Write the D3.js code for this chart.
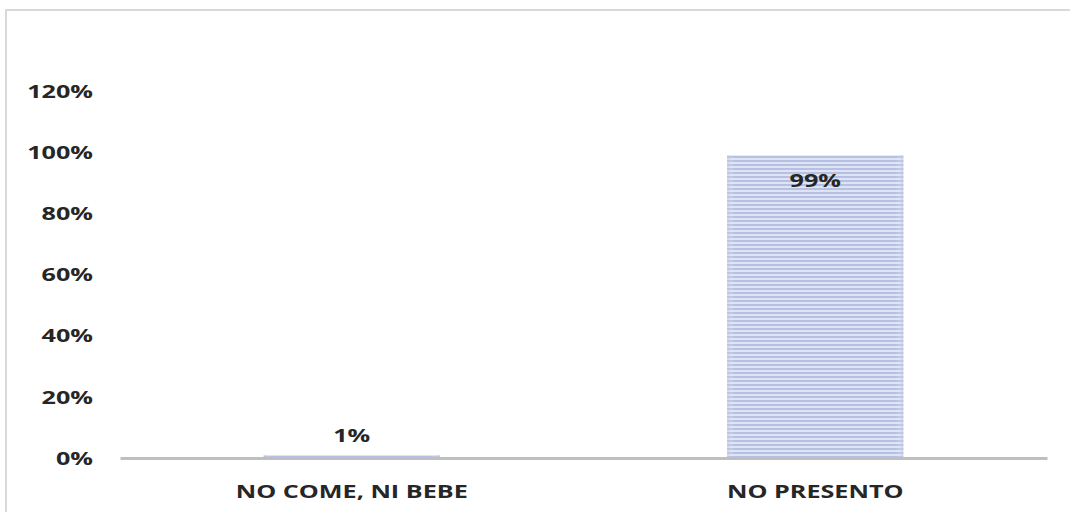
<!DOCTYPE html>
<html>
<head>
<meta charset="utf-8">
<script src="https://cdn.jsdelivr.net/npm/d3@7"></script>
<style>
  html, body { margin: 0; padding: 0; background: #ffffff; }
  svg { display: block; }
  text { font-family: "Open Sans", sans-serif; font-weight: 700; fill: #262626; }
</style>
</head>
<body>
<svg id="chart" width="1070" height="512"></svg>
<script>
// Share of cases per category
const categories = ["NO COME, NI BEBE", "NO PRESENTO"];
const values = [0.01, 0.99];
const valueLabels = ["1%", "99%"];
const tickValues = [0, 0.2, 0.4, 0.6, 0.8, 1.0, 1.2];
const tickLabels = ["0%", "20%", "40%", "60%", "80%", "100%", "120%"];

const W = 1070, H = 512;
const plot = { left: 120, right: 1047, top: 91, bottom: 458 };
const STRETCH = 1.4; // wide lettering

const svg = d3.select("#chart");

// striped fill for the bars
const defs = svg.append("defs");
const pat = defs.append("pattern")
  .attr("id", "stripes")
  .attr("patternUnits", "userSpaceOnUse")
  .attr("width", 8).attr("height", 4);
pat.append("rect").attr("width", 8).attr("height", 4).attr("fill", "#dfe4f4");
pat.append("rect").attr("y", 0).attr("width", 8).attr("height", 2).attr("fill", "#b6c0e2");

const edge = defs.append("linearGradient").attr("id", "edgeFade")
  .attr("x1", "0").attr("x2", "1").attr("y1", "0").attr("y2", "0");
edge.append("stop").attr("offset", "0").attr("stop-color", "#b6c0e2").attr("stop-opacity", 0.5);
edge.append("stop").attr("offset", "0.04").attr("stop-color", "#ffffff").attr("stop-opacity", 0);
edge.append("stop").attr("offset", "0.96").attr("stop-color", "#ffffff").attr("stop-opacity", 0);
edge.append("stop").attr("offset", "1").attr("stop-color", "#b6c0e2").attr("stop-opacity", 0.5);

// outer frame
svg.append("rect")
  .attr("x", 6).attr("y", 10).attr("width", W + 10).attr("height", H + 10)
  .attr("fill", "none").attr("stroke", "#d9d9d9").attr("stroke-width", 2);

const x = d3.scaleBand()
  .domain(categories)
  .range([plot.left, plot.right])
  .paddingInner(0.62)
  .paddingOuter(0.31);

const y = d3.scaleLinear()
  .domain([0, 1.2])
  .range([plot.bottom, plot.top]);

// value axis labels (no axis line, no gridlines)
const yAxis = d3.axisLeft(y)
  .tickValues(tickValues)
  .tickFormat((d, i) => tickLabels[i])
  .tickSize(0)
  .tickPadding(0);
const gy = svg.append("g").attr("transform", "translate(93,0)").call(yAxis);
gy.select(".domain").remove();
gy.selectAll(".tick text")
  .attr("x", 0).attr("dy", "0.35em")
  .attr("font-size", 18)
  .attr("transform", `scale(${STRETCH},1)`)
  .attr("x", 0)
  .style("font-family", "'Open Sans', sans-serif")
  .style("font-weight", 700)
  .attr("fill", "#262626");
// stretch around right anchor
gy.selectAll(".tick text").attr("transform", null).each(function() {
  const t = d3.select(this);
  t.attr("transform", `scale(${STRETCH},1)`);
});

// bars
const rows = categories.map((c, i) => ({ c, v: values[i], label: valueLabels[i] }));
const bars = svg.append("g");
bars.selectAll("rect.bar").data(rows).join("rect")
  .attr("class", "bar")
  .attr("x", d => x(d.c))
  .attr("width", x.bandwidth())
  .attr("y", d => y(d.v))
  .attr("height", d => y(0) - y(d.v))
  .attr("fill", "url(#stripes)");
bars.selectAll("rect.fade").data(rows).join("rect")
  .attr("class", "fade")
  .attr("x", d => x(d.c))
  .attr("width", x.bandwidth())
  .attr("y", d => y(d.v))
  .attr("height", d => y(0) - y(d.v))
  .attr("fill", "url(#edgeFade)");

// category axis
const xAxis = d3.axisBottom(x).tickSize(0).tickPadding(0);
const gx = svg.append("g").attr("transform", `translate(0,${plot.bottom})`).call(xAxis);
gx.select(".domain").attr("stroke", "#bfbfbf").attr("stroke-width", 3);
gx.selectAll(".tick text")
  .attr("y", 0).attr("dy", 0)
  .attr("font-size", 18)
  .style("font-family", "'Open Sans', sans-serif")
  .style("font-weight", 700)
  .attr("fill", "#262626")
  .each(function(d) {
    const cx = x(d) + x.bandwidth() / 2;
    d3.select(this.parentNode).attr("transform", `translate(${cx},0)`);
    d3.select(this).attr("transform", `translate(0,40) scale(${STRETCH},1)`);
  });

// data labels
svg.append("g").selectAll("text").data(rows).join("text")
  .attr("text-anchor", "middle")
  .attr("font-size", 18)
  .attr("transform", d => {
    const cx = x(d.c) + x.bandwidth() / 2;
    const cy = d.v > 0.5 ? y(d.v) + 32 : y(d.v) - 13;
    return `translate(${cx},${cy}) scale(${STRETCH},1)`;
  })
  .text(d => d.label);
</script>
</body>
</html>
